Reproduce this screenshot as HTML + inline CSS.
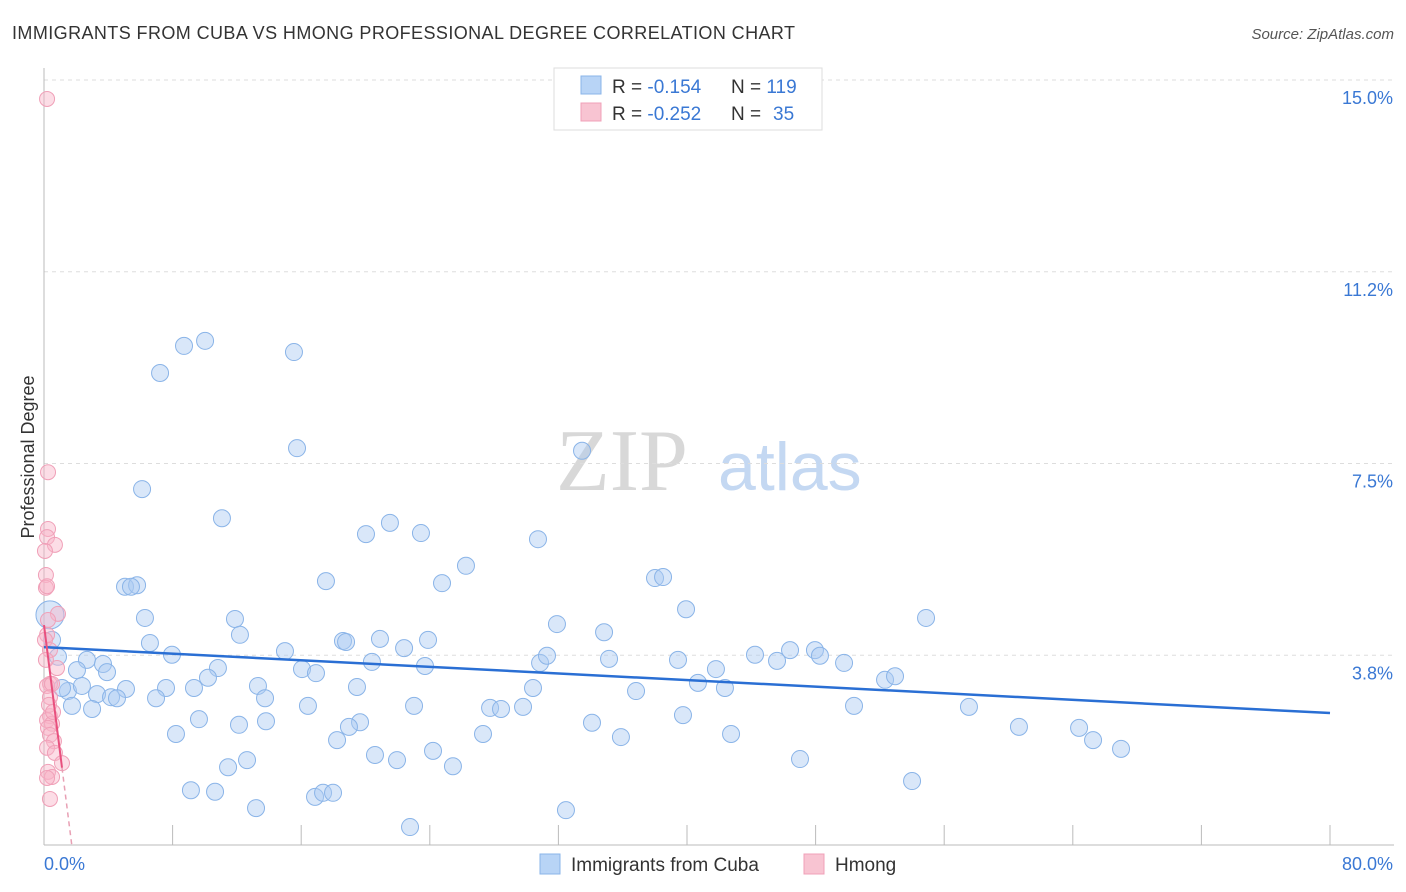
<!DOCTYPE html>
<html><head><meta charset="utf-8"><style>
body{margin:0;background:#fff;font-family:"Liberation Sans",sans-serif}
svg{display:block}
</style></head><body>
<svg id="chart" width="1406" height="892">
<text x="12" y="39" font-size="18" fill="#333" textLength="783" lengthAdjust="spacing">IMMIGRANTS FROM CUBA VS HMONG PROFESSIONAL DEGREE CORRELATION CHART</text>
<text x="1394" y="39" font-size="15" fill="#555" font-style="italic" text-anchor="end">Source: ZipAtlas.com</text>
<text x="556" y="490" font-size="88" fill="#d8d8d8" font-family="Liberation Serif">ZIP</text>
<text x="718" y="490" font-size="68" fill="#c4d8f2">atlas</text>
<text transform="translate(34,457) rotate(-90)" font-size="18" fill="#333" text-anchor="middle">Professional Degree</text>
<g id="grid"></g><g id="pts"></g><g id="lines"></g>
<g>
<rect x="554" y="68" width="268" height="62" fill="#fff" stroke="#ddd"/>
<rect x="581" y="76" width="20" height="18" fill="#b8d4f6" stroke="#8ab4e8"/>
<rect x="581" y="103" width="20" height="18" fill="#f8c4d2" stroke="#f0a0b8"/>
<text x="612" y="93" font-size="19" fill="#333">R = <tspan fill="#3a78d4">-0.154</tspan><tspan x="731">N = </tspan><tspan fill="#3a78d4">119</tspan></text>
<text x="612" y="120" font-size="19" fill="#333">R = <tspan fill="#3a78d4">-0.252</tspan><tspan x="731">N = </tspan><tspan fill="#3a78d4" x="773">35</tspan></text>
</g>
<g>
<rect x="540" y="854" width="20" height="20" fill="#b8d4f6" stroke="#8ab4e8"/>
<text x="571" y="871" font-size="19" fill="#333">Immigrants from Cuba</text>
<rect x="804" y="854" width="20" height="20" fill="#f8c4d2" stroke="#f0a0b8"/>
<text x="835" y="871" font-size="19" fill="#333">Hmong</text>
</g>
</svg>
<script>
const blueX=[8.71,10.02,7.22,15.55,15.74,6.10,11.07,21.52,20.03,23.45,30.73,26.25,17.54,24.76,5.04,5.79,5.41,38.01,38.51,39.94,54.87,6.28,11.88,12.19,31.91,34.84,6.59,18.60,18.79,20.90,23.89,22.40,14.99,7.96,2.67,3.67,3.92,2.05,0.87,0.50,20.40,23.70,30.86,31.29,35.15,39.44,41.80,44.23,45.60,46.41,47.96,48.27,49.77,52.32,52.94,16.05,16.92,10.82,10.20,9.33,7.59,5.10,3.30,1.49,1.12,2.36,4.17,4.54,6.97,13.31,13.75,19.47,30.42,36.83,40.68,42.36,1.74,2.99,9.64,12.13,13.81,16.42,19.66,18.97,23.02,27.75,28.43,29.80,34.09,39.75,50.39,57.54,60.65,64.39,65.26,67.00,8.21,18.23,27.31,35.89,42.74,20.59,21.96,24.20,25.44,11.45,12.63,47.03,54.00,9.14,10.64,13.19,16.86,17.36,17.98,22.77,32.47,33.47];
const blueY=[9.80,9.90,9.27,9.68,7.80,7.00,6.43,6.34,6.12,6.14,6.02,5.50,5.20,5.16,5.09,5.12,5.09,5.26,5.28,4.65,4.48,4.48,4.46,4.15,4.36,4.20,3.99,4.03,4.01,4.07,4.05,3.89,3.83,3.76,3.66,3.58,3.42,3.46,3.72,4.05,3.62,3.54,3.60,3.74,3.68,3.66,3.48,3.76,3.64,3.85,3.85,3.74,3.60,3.27,3.34,3.48,3.40,3.50,3.31,3.11,3.11,3.09,2.99,3.05,3.11,3.15,2.93,2.91,2.91,3.15,2.91,3.13,3.11,3.05,3.21,3.11,2.76,2.70,2.50,2.39,2.46,2.76,2.44,2.35,2.76,2.72,2.70,2.74,2.43,2.58,2.76,2.74,2.35,2.33,2.09,1.92,2.21,2.09,2.21,2.15,2.21,1.80,1.70,1.88,1.58,1.56,1.70,1.72,1.29,1.11,1.08,0.76,0.98,1.06,1.06,0.39,0.72,7.75];
const pinkX=[0.19,0.25,0.25,0.19,0.68,0.06,0.12,0.12,0.19,0.87,0.25,0.19,0.81,0.37,0.19,0.50,0.37,0.37,0.19,0.50,0.25,0.37,0.62,0.19,0.68,1.12,0.25,0.50,0.19,0.37,0.06,0.37,0.12,0.31,0.56];
const pinkY=[14.63,7.33,6.22,6.06,5.91,5.79,5.32,5.07,5.10,4.56,4.44,4.15,3.50,3.19,3.15,3.19,2.93,2.56,2.48,2.41,2.33,2.19,2.07,1.94,1.84,1.64,1.47,1.37,1.35,0.94,4.05,3.85,3.66,2.78,2.64];
const bigX=[0.37],bigY=[4.54];
const blueTrend=[3.91,2.62];
const pinkTrend=[4.34,1.55];
const yTicks=[15.0,11.25,7.5,3.75];
const yTickLabels=["15.0%","11.2%","7.5%","3.8%"];
const xTicks=[0,8,16,24,32,40,48,56,64,72,80];
const X=v=>44+v*16.075, Y=v=>847-v*51.13;
const NS="http://www.w3.org/2000/svg";
function mk(p,t,a){const e=document.createElementNS(NS,t);for(const k in a)e.setAttribute(k,a[k]);p.appendChild(e);return e;}
const grid=document.getElementById('grid');
yTicks.forEach((v,i)=>{
 const l=mk(grid,'line',{x1:44,x2:1394,y1:Y(v),y2:Y(v),stroke:'#ddd','stroke-dasharray':'4,4'});
 
 
 const t=mk(grid,'text',{x:1393,y:Y(v)+24,'font-size':18,fill:'#3a78d4','text-anchor':'end'});t.textContent=yTickLabels[i];
 
 
});
const ax=mk(grid,'line',{x1:44,x2:44,y1:68,y2:845,stroke:'#bbb'});


const bx=mk(grid,'line',{x1:44,x2:1394,y1:845,y2:845,stroke:'#bbb'});


xTicks.forEach(v=>{const t=mk(grid,'line',{x1:X(v),x2:X(v),y1:825,y2:845,stroke:'#bbb'});
 
 });
const xl0=mk(grid,'text',{x:44,y:870,'font-size':18,fill:'#3a78d4'});xl0.textContent='0.0%';


const xl1=mk(grid,'text',{x:1393,y:870,'font-size':18,fill:'#3a78d4','text-anchor':'end'});xl1.textContent='80.0%';


const pts=document.getElementById('pts');
blueX.forEach((x,i)=>{const c=mk(pts,'circle',{cx:X(x),cy:Y(blueY[i]),r:8.5,fill:'rgba(170,202,242,0.45)',stroke:'#8ab4e8','stroke-width':1});
 
 });
bigX.forEach((x,i)=>{const c=mk(pts,'circle',{cx:X(x),cy:Y(bigY[i]),r:14,fill:'rgba(170,202,242,0.45)',stroke:'#8ab4e8'});
 
 });
pinkX.forEach((x,i)=>{const c=mk(pts,'circle',{cx:X(x),cy:Y(pinkY[i]),r:7.5,fill:'rgba(248,180,200,0.45)',stroke:'#f0a0b8'});
 
 });
const ln=document.getElementById('lines');
const b=mk(ln,'line',{x1:X(0),y1:Y(blueTrend[0]),x2:X(80),y2:Y(blueTrend[1]),stroke:'#2a6fd4','stroke-width':2.5});


const slope=(pinkTrend[1]-pinkTrend[0])/1.12;
const p=mk(ln,'line',{x1:X(0),y1:Y(pinkTrend[0]),x2:X(1.12),y2:Y(pinkTrend[1]),stroke:'#e8507e','stroke-width':2});


const xe=-pinkTrend[0]/slope;
const pd=mk(ln,'line',{x1:X(1.12),y1:Y(pinkTrend[1]),x2:X(xe),y2:Y(0),stroke:'#e8a0b4','stroke-width':1.5,'stroke-dasharray':'5,4'});


</script>
</body></html>
